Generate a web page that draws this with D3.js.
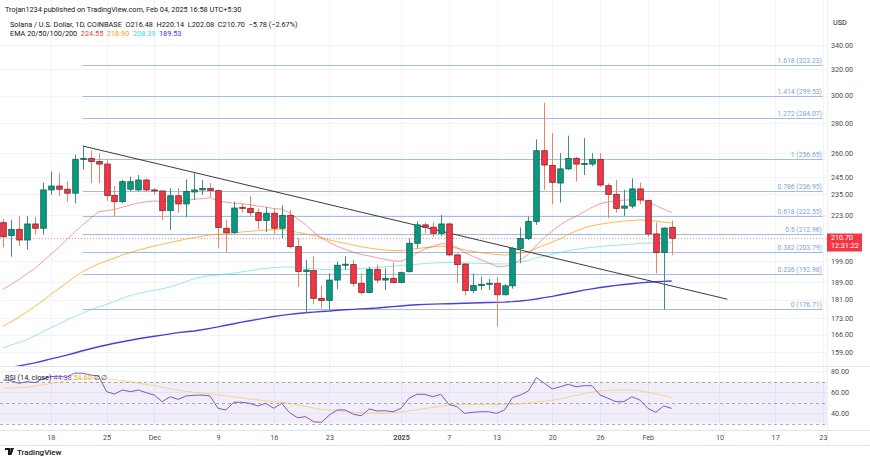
<!DOCTYPE html>
<html><head><meta charset="utf-8">
<script src="https://cdn.jsdelivr.net/npm/d3@7"></script>
<style>
body{margin:0;background:#fff;}
svg{display:block;font-family:Roboto,"Open Sans",sans-serif;}
</style>
</head><body>
<svg id="c" width="870" height="463"></svg>
<script>
// ---------- DATA ----------
const dates = ["2024-11-12","2024-11-13","2024-11-14","2024-11-15","2024-11-16","2024-11-17","2024-11-18","2024-11-19","2024-11-20","2024-11-21",
"2024-11-22","2024-11-23","2024-11-24","2024-11-25","2024-11-26","2024-11-27","2024-11-28","2024-11-29","2024-11-30","2024-12-01",
"2024-12-02","2024-12-03","2024-12-04","2024-12-05","2024-12-06","2024-12-07","2024-12-08","2024-12-09","2024-12-10","2024-12-11",
"2024-12-12","2024-12-13","2024-12-14","2024-12-15","2024-12-16","2024-12-17","2024-12-18","2024-12-19","2024-12-20","2024-12-21",
"2024-12-22","2024-12-23","2024-12-24","2024-12-25","2024-12-26","2024-12-27","2024-12-28","2024-12-29","2024-12-30","2024-12-31",
"2025-01-01","2025-01-02","2025-01-03","2025-01-04","2025-01-05","2025-01-06","2025-01-07","2025-01-08","2025-01-09","2025-01-10",
"2025-01-11","2025-01-12","2025-01-13","2025-01-14","2025-01-15","2025-01-16","2025-01-17","2025-01-18","2025-01-19","2025-01-20",
"2025-01-21","2025-01-22","2025-01-23","2025-01-24","2025-01-25","2025-01-26","2025-01-27","2025-01-28","2025-01-29","2025-01-30",
"2025-01-31","2025-02-01","2025-02-02","2025-02-03","2025-02-04"];

const open  = [219,212.2,215.4,209.8,218.3,216.0,237.5,239.8,237.9,235.6,
256.5,256.8,254.8,253.2,234.2,230.7,237.9,237.5,243.4,237.5,
236.9,225.6,234.1,229.4,236.3,237.5,238.3,237.1,216.0,213.7,
227.5,226.9,224.5,220.2,224.2,216.0,223,206.4,194.1,194.5,
181.6,180.6,190,197.1,197.4,188.5,184.2,195.1,190,190.8,
188.8,194,208.1,217.8,216.6,213.3,218.3,202.2,197.7,185.1,
187.4,188,188.5,183.2,187.3,205.5,210.6,219.6,261.7,252.4,
241.6,250.2,256.8,253.2,253.2,256.2,240,234.9,227,228.2,
238.1,231.3,213,203.4,216.48];
const high  = [221,220.5,222.6,222.6,222.2,241.8,248.5,247.5,242.4,259.3,
264.5,261.9,259.8,256.2,239.8,243.4,245.4,246.4,244.4,238.5,
237.1,238.5,238.5,243.8,247.5,243.4,241.5,237.5,220.5,230.7,
229.5,234.1,226.9,227.8,226.9,228.7,226,210.8,199.7,201.6,
187.5,193.2,198.9,201.6,199.7,193.2,196.4,197.4,195.6,198.4,
194,210.6,219.6,219.1,219.1,223.2,219.1,202.7,198.1,193.2,
191.6,190.5,191.5,188.2,206.3,216.4,222.3,269.2,294.7,273.4,
260.1,271.6,257.8,270,260.1,260.1,241.4,243.4,237.5,244.4,
241.8,231.7,219.1,216.5,220.14];
const low   = [206,201.3,206.8,205,212.6,212.6,234.6,234,230.7,229.8,
250,241.5,241.5,231.3,222.2,229.8,236.6,236.6,236.3,234.6,
220.5,215.1,224.5,222,231.7,234.6,233.3,205.5,203.8,213,
224.5,222.4,215.5,214,213,210.8,205.5,186.8,175.1,179.1,
177.2,176.4,185.8,194.8,187,183.2,183.9,188.5,185.3,188.5,
188.5,193.5,205.5,213.3,211.5,211.8,201.6,188.5,182.9,184,
185.4,185.4,169.5,182.9,186,198.1,209.8,217.8,237.5,229.2,
230.2,249.5,242.4,246.4,251.8,239.4,221.4,224.5,222.7,226.9,
229.2,211.5,193.2,176.7,202.08];
const close = [211.5,215.4,209.8,218.3,216.0,237.5,239.8,237.9,235.6,256.2,
256.8,254.8,253.2,234.2,230.7,242.4,242.4,243.4,237.5,236.9,
225.6,234.1,229.4,236.6,237.5,238.3,237.1,216.4,213.6,227.1,
226.9,224.5,220.2,224.2,216.0,223,206.4,194.1,194.8,181.6,
180.6,190,197.1,197.6,188.5,184.2,195.1,190,190.8,188.8,
193.5,208.1,217.8,216.6,213.3,218.3,202.2,197.4,185.1,187.4,
188,188.5,183.2,187.3,205.5,210.6,219.6,261.7,252.6,242,
250.2,256.8,253.2,253.6,256.2,240.4,234.9,226.9,228.2,238.1,
231.7,213,203.4,216.1,210.70];

const ema20 = [185.5,188,190.3,193,195.5,199,202.5,206,210,214,
217.8,221.5,225,225.6,226.3,227.6,228.8,229.9,230.6,231.1,
230.8,231,230.9,231.4,232,232.5,233,231,230.5,229.8,
229.5,229,228.2,227.6,226.8,226.5,224.5,221,218,214,
211,208.5,206.5,205,203.6,202.4,201.7,200.8,200,199.3,
199,200.8,203.2,205.2,206.6,207.8,207.8,206,203.5,201.5,
199.8,198.3,196.6,196.4,197.6,199.8,202.5,207,211,214.5,
217.8,220.5,222.5,225,227.5,229.5,230.5,231.2,231.6,231.8,
231.8,230.6,228.5,226.5,224.55];
const ema50 = [169.5,171.3,173.4,175.6,178,180.5,183.4,186,188.6,191.5,
194,196,197.8,199.2,200.6,202.2,203.4,204.6,205.7,206.7,
207.6,208.5,209.4,210.3,211.1,211.8,212.5,212.8,213,213.5,
214,214.4,214.7,215,215.2,215.3,214.8,213.8,213,212.2,
211,209.8,208.8,208.1,207.2,206.3,205.7,205.1,204.7,204.4,
204.3,204.8,205.4,205.9,206.2,206.6,206.4,205.6,204.7,204,
203.4,202.8,202.4,202.1,202.6,203.2,203.8,205.5,207.2,208.8,
210.4,212.8,214.5,216.2,217.3,218.1,218.8,219.4,219.8,220.2,
220.5,220.3,219.8,219.3,218.90];
const ema100 = [160.5,161.8,162.8,163.8,165.5,167.2,168.8,170.4,172.1,173.6,
175.1,176.5,177.8,178.9,180.2,181.6,182.9,183.8,184.6,185.3,
185.9,186.8,188,189.3,190.6,191.5,192,192.4,192.8,193.3,
193.9,194.5,195,195.6,195.9,196.2,196.3,196.1,195.8,195.4,
195.1,194.9,195,195.1,195.3,195.5,195.7,196,196.3,196.7,
197,197.3,197.6,197.9,198.2,198.4,198.5,198.4,198.2,198.1,
198,197.9,197.8,197.7,197.9,198.6,199.5,200.7,201.7,202.5,
203.4,204.3,205,205.6,206,206.4,206.8,207.1,207.4,207.7,
208,208.2,208.3,208.35,208.39];
const ema200 = [152.6,153.1,153.6,154.2,154.8,155.5,156.3,157,157.8,158.6,
159.5,160.3,161.1,161.8,162.5,163.1,163.7,164.3,164.8,165.3,
165.8,166.3,166.8,167.2,167.5,168,168.6,169.2,169.9,170.5,
171.2,171.8,172.4,173,173.6,174.1,174.5,174.9,175.2,175.5,
175.8,176,176.3,176.5,176.7,176.9,177.1,177.3,177.6,177.9,
178.2,178.5,178.7,178.9,179,179.1,179.2,179.3,179.4,179.5,
179.6,179.7,179.8,179.9,180.1,180.4,180.8,181.3,181.9,182.5,
183.2,183.9,184.6,185.3,185.9,186.5,187,187.5,187.9,188.3,
188.7,189,189.2,189.4,189.53];

const rsi = [71.5,70.8,68.3,69.8,68.9,72.5,74.6,75,74,78,
77.8,76.2,75.2,60.3,58.1,61.9,60.3,61.9,59.3,57.1,
50.8,55.5,53,56.2,56.9,57.1,56.2,44.5,42.9,50.2,
50.2,49.2,46.7,49.2,44.5,49.2,40.3,35.5,36.5,31.7,
31.1,38.1,42.9,42.9,38.8,37.4,43.8,41.9,42.2,41.2,
44.5,54,57.8,57.8,55.5,57.8,48.3,46,39.7,40.6,
41.2,41.2,39.7,42.9,54.6,57.1,61,73.7,68.3,62.9,
65,67.3,65,66,66,57.1,54,50.8,50.8,55.5,
52.4,44.5,40.6,46.7,44.38];
const rsiMA = [63.5,63.8,64.2,64.5,65.5,66.8,68,69.5,70.8,71.8,
72.5,73,73,72.5,71.5,70.8,69.8,68.5,67.2,66,
64.5,63,61.8,60.6,59.8,59,58.3,57.2,56.2,55.3,
54.6,53.2,52.5,51.6,50.8,50.2,49.2,47.6,46.3,44.7,
43.5,42.8,42,41.3,40.8,40.3,40.1,39.8,39.7,40.3,
41.2,41.9,43,44.2,45.3,46.4,47.4,47.8,48,48.2,
48.3,48.3,48.3,48.2,48.3,48.6,49.3,50.3,51.3,52.1,
53.5,55.2,56.8,58.5,60,61,61.6,61.9,62,61.9,
61.2,59.8,58.3,56.5,54.6];

const fibLevels = ["1.618","1.414","1.272","1","0.786","0.618","0.5","0.382","0.236","0"];
const fibPrices = [323.23,299.53,284.07,256.65,236.95,222.55,212.96,203.79,192.98,176.71];
const fibRange = ["2024-11-22","2025-02-23"];

const trendDates = ["2024-11-22","2025-02-11"];
const trendPrices = [264.8,181.2];

const priceTicks = [340,320,300,280,260,245,235,223,199,189,181,173,166,159];
const rsiTicks = [80,60,40];
const rsiBands = [70,50,30];
const timeTicks = ["2024-11-18","2024-11-25","2024-12-01","2024-12-09","2024-12-16","2024-12-23","2025-01-01","2025-01-07","2025-01-13","2025-01-20","2025-01-26","2025-02-01","2025-02-10","2025-02-17","2025-02-23"];
const timeLabels = ["18","25","Dec","9","16","23","2025","7","13","20","26","Feb","10","17","23"];

const lastPrice = 210.70;
const countdown = "12:31:22";
const emaLabels = ["224.55","218.90","208.39","189.53"];

// ---------- LAYOUT ----------
const svg = d3.select("#c");
const W = 870, plotR = 827, mainTop = 0, mainBot = 366, rsiTop = 366, rsiBot = 430, axisBot = 445;
const parse = d3.utcParse("%Y-%m-%d");
const D = dates.map(parse);

const x = d3.scaleUtc().domain([parse("2024-11-13"), parse("2025-02-23")]).range([11, 822.9]);
const y = d3.scaleLog().domain([159, 340]).range([352, 45]);
const yr = d3.scaleLinear().domain([80, 40]).range([371, 413]);

const emaCols = ["#f23645","#ff9800","#3fd6e6","#4433d6"];

svg.append("rect").attr("width",W).attr("height",463).attr("fill","#fff");

const defs = svg.append("defs");
defs.append("clipPath").attr("id","cm").append("rect").attr("x",0).attr("y",mainTop).attr("width",plotR).attr("height",mainBot-mainTop);
defs.append("clipPath").attr("id","cr").append("rect").attr("x",0).attr("y",rsiTop).attr("width",plotR).attr("height",rsiBot-rsiTop);

// grid
const grid = svg.append("g");
timeTicks.forEach(t=>{
  const xx = Math.round(x(parse(t)))+0.5;
  grid.append("line").attr("x1",xx).attr("x2",xx).attr("y1",0).attr("y2",rsiBot).attr("stroke","#f0f3fa").attr("stroke-width",1);
});
priceTicks.forEach(p=>{
  const yy = Math.round(y(p))+0.5;
  grid.append("line").attr("x1",0).attr("x2",plotR).attr("y1",yy).attr("y2",yy).attr("stroke","#f0f3fa");
});
rsiTicks.forEach(v=>{
  const yy = Math.round(yr(v))+0.5;
  grid.append("line").attr("x1",0).attr("x2",plotR).attr("y1",yy).attr("y2",yy).attr("stroke","#f0f3fa");
});

// main panel
const gm = svg.append("g").attr("clip-path","url(#cm)");

// fib lines
const fx1 = x(parse(fibRange[0])), fx2 = x(parse(fibRange[1]));
fibPrices.forEach((p,i)=>{
  const yy = Math.round(y(p))+0.5;
  gm.append("line").attr("x1",fx1).attr("x2",fx2).attr("y1",yy).attr("y2",yy).attr("stroke","#9fbde6").attr("stroke-width",1);
  gm.append("text").attr("x",fx2-1).attr("y",yy-2.5).attr("text-anchor","end").attr("font-size",6.8)
    .attr("fill","#7f9fd6").text(fibLevels[i]+" ("+p.toFixed(2)+")");
});

// current price dotted line
const ly = Math.round(y(lastPrice))+0.5;
gm.append("line").attr("x1",0).attr("x2",plotR).attr("y1",ly).attr("y2",ly).attr("stroke","#f23645").attr("stroke-opacity",0.55).attr("stroke-dasharray","1,2");

// EMA lines
const line = d3.line().x((d,i)=>x(D[i])).y(d=>y(d));
[[ema200,emaCols[3],1.4,0.95],[ema100,emaCols[2],1,0.55],[ema50,emaCols[1],1,0.7],[ema20,emaCols[0],1,0.5]].forEach(([arr,c,w,o])=>{
  gm.append("path").attr("d",line(arr)).attr("fill","none").attr("stroke",c).attr("stroke-width",w).attr("stroke-opacity",o);
});

// trend line
gm.append("line").attr("x1",x(parse(trendDates[0]))).attr("y1",y(trendPrices[0]))
  .attr("x2",x(parse(trendDates[1]))).attr("y2",y(trendPrices[1])).attr("stroke","#3a3a3a").attr("stroke-width",1);

// candles
const bw = 5.6;
const cg = gm.append("g");
D.forEach((d,i)=>{
  const up = close[i] >= open[i];
  const cx = x(d);
  const col = up ? "#089981" : "#f23645";
  const wick = up ? "#3f8f7a" : "#e8845e";
  const border = up ? "#1d5e50" : "#7a2a30";
  cg.append("line").attr("x1",Math.round(cx)+0.5).attr("x2",Math.round(cx)+0.5).attr("y1",y(high[i])).attr("y2",y(low[i])).attr("stroke",wick).attr("stroke-width",1);
  const yt = y(Math.max(open[i],close[i])), yb = y(Math.min(open[i],close[i]));
  cg.append("rect").attr("x",Math.round(cx)+0.5-bw/2).attr("y",yt).attr("width",bw).attr("height",Math.max(1,yb-yt))
    .attr("fill",col).attr("stroke",border).attr("stroke-width",0.8);
});

// RSI panel
const gr = svg.append("g").attr("clip-path","url(#cr)");
gr.append("rect").attr("x",0).attr("width",plotR).attr("y",yr(rsiBands[0])).attr("height",yr(rsiBands[2])-yr(rsiBands[0]))
  .attr("fill","#7e57c2").attr("fill-opacity",0.1);
rsiBands.forEach(v=>{
  const yy = Math.round(yr(v))+0.5;
  gr.append("line").attr("x1",0).attr("x2",plotR).attr("y1",yy).attr("y2",yy).attr("stroke","#787b86").attr("stroke-opacity",0.6).attr("stroke-dasharray","3,3");
});
const rl = d3.line().x((d,i)=>x(D[i])).y(d=>yr(d));
gr.append("path").attr("d",rl(rsiMA)).attr("fill","none").attr("stroke","#f5c542").attr("stroke-opacity",0.6).attr("stroke-width",1);
gr.append("path").attr("d",rl(rsi)).attr("fill","none").attr("stroke","#7e57c2").attr("stroke-width",1);

// separators
[[mainBot],[rsiBot],[axisBot]].forEach(([yy])=>{
  svg.append("line").attr("x1",0).attr("x2",W).attr("y1",yy+0.5).attr("y2",yy+0.5).attr("stroke","#e0e3eb");
});
svg.append("line").attr("x1",plotR+0.5).attr("x2",plotR+0.5).attr("y1",0).attr("y2",axisBot).attr("stroke","#f0f1f4");

// price axis
const pa = svg.append("g").attr("transform",`translate(${plotR},0)`)
  .call(d3.axisRight(y).tickValues(priceTicks).tickFormat(d3.format(".2f")).tickSize(0).tickPadding(4));
pa.select(".domain").remove();
pa.selectAll("text").attr("font-size",7.2).attr("fill","#4a4e59").attr("font-family","Roboto,sans-serif");

const ra = svg.append("g").attr("transform",`translate(${plotR},0)`)
  .call(d3.axisRight(yr).tickValues(rsiTicks).tickFormat(d3.format(".2f")).tickSize(0).tickPadding(4));
ra.select(".domain").remove();
ra.selectAll("text").attr("font-size",7.2).attr("fill","#4a4e59").attr("font-family","Roboto,sans-serif");

// last price label
const lb = svg.append("g");
lb.append("rect").attr("x",plotR).attr("y",ly-5).attr("width",35).attr("height",18).attr("fill","#f23645");
lb.append("text").attr("x",plotR+4).attr("y",ly+1.5).attr("font-size",7.2).attr("fill","#fff").text(lastPrice.toFixed(2));
lb.append("text").attr("x",plotR+4).attr("y",ly+9.5).attr("font-size",7.2).attr("fill","#fff").text(countdown);

svg.append("text").attr("x",833).attr("y",25).attr("font-size",7.2).attr("fill","#131722").text("USD");

// time axis
const ta = svg.append("g").attr("transform",`translate(0,${rsiBot})`)
  .call(d3.axisBottom(x).tickValues(timeTicks.map(parse)).tickFormat((d,i)=>timeLabels[i]).tickSize(0).tickPadding(5));
ta.select(".domain").remove();
ta.selectAll("text").attr("font-size",7.2).attr("fill","#4a4e59").attr("font-family","Roboto,sans-serif")
  .attr("font-weight",(d,i)=>timeLabels[i]==="2025"?"bold":"normal");

// header
const hf = 7.3;
svg.append("text").attr("x",5).attr("y",11.5).attr("font-size",hf).attr("fill","#131722")
  .text("Trojan1234 published on TradingView.com, Feb 04, 2025 16:58 UTC+5:30");
svg.append("text").attr("x",10).attr("y",26.5).attr("font-size",hf).attr("fill","#131722")
  .text("Solana / U.S. Dollar, 1D, COINBASE  O216.48  H220.14  L202.08  C210.70  \u22125.78 (\u22122.67%)").attr("xml:space","preserve").style("white-space","pre");
const eh = svg.append("text").attr("x",10).attr("y",36).attr("font-size",hf).attr("fill","#131722").style("white-space","pre");
eh.append("tspan").text("EMA 20/50/100/200 ");
emaLabels.forEach((t,i)=>{ eh.append("tspan").attr("fill",emaCols[i]).text(" "+t+" "); });

// RSI label
const rt = svg.append("text").attr("x",5).attr("y",380).attr("font-size",hf).attr("fill","#131722").style("white-space","pre");
rt.append("tspan").text("RSI (14, close) ");
rt.append("tspan").attr("fill","#7e57c2").text(rsi[rsi.length-1].toFixed(2)+" ");
rt.append("tspan").attr("fill","#e5b530").text(rsiMA[rsiMA.length-1].toFixed(2)+" ");
rt.append("tspan").attr("fill","#50535e").text("\u2205 \u2205");

// TradingView logo
const lg = svg.append("g").attr("transform","translate(5,448)");
lg.append("path").attr("d","M0 0H5V7H3V2H0Z M5.5 0H9L6.5 7H4.8Z").attr("fill","#131722");
lg.append("text").attr("x",12).attr("y",7).attr("font-size",8).attr("fill","#131722").attr("font-weight",500).text("TradingView");
</script>
</body></html>
